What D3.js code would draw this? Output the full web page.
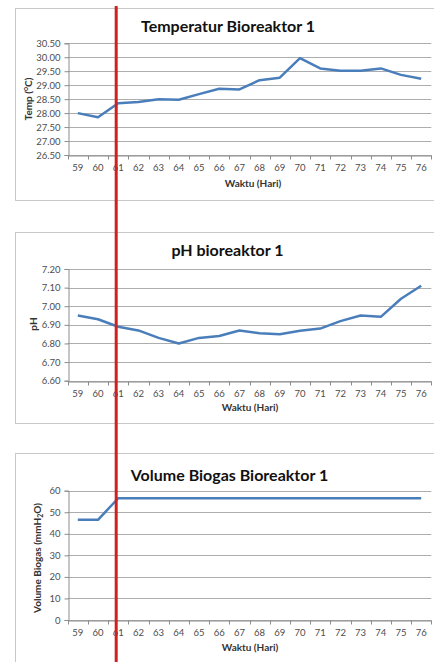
<!DOCTYPE html>
<html>
<head>
<meta charset="utf-8">
<script src="https://cdn.jsdelivr.net/npm/d3@7"></script>
<style>
  html, body { margin: 0; padding: 0; background: #fff; overflow: hidden; }
  svg { display: block; }
  text { font-family: Lato, "Open Sans", sans-serif; }
</style>
</head>
<body>
<div id="chart"></div>
<script>
// data
var days = [59, 60, 61, 62, 63, 64, 65, 66, 67, 68, 69, 70, 71, 72, 73, 74, 75, 76];
var tempValues = [28.00, 27.85, 28.35, 28.40, 28.50, 28.48, 28.68, 28.87, 28.85, 29.18, 29.27, 29.97, 29.60, 29.52, 29.52, 29.60, 29.37, 29.23];
var phValues = [6.95, 6.93, 6.89, 6.87, 6.83, 6.80, 6.83, 6.84, 6.87, 6.855, 6.85, 6.868, 6.88, 6.92, 6.95, 6.943, 7.04, 7.11];
var biogasValues = [46.5, 46.5, 56.5, 56.5, 56.5, 56.5, 56.5, 56.5, 56.5, 56.5, 56.5, 56.5, 56.5, 56.5, 56.5, 56.5, 56.5, 56.5];
var tempTicks = [26.5, 27.0, 27.5, 28.0, 28.5, 29.0, 29.5, 30.0, 30.5];
var phTicks = [6.6, 6.7, 6.8, 6.9, 7.0, 7.1, 7.2];
var biogasTicks = [0, 10, 20, 30, 40, 50, 60];
var markDay = 61;

var W = 434, H = 662;
var svg = d3.select("#chart").append("svg")
    .attr("width", W).attr("height", H);

var x = d3.scaleBand().domain(days).range([67.7, 431.3]);

function drawChart(opt) {
    var g = svg.append("g");

    // chart frame
    g.append("rect")
        .attr("x", 15.5).attr("y", opt.boxTop + 0.5)
        .attr("width", 460).attr("height", opt.boxH)
        .attr("fill", "#fff").attr("stroke", "#c9c9c9");

    var y = d3.scaleLinear().domain(opt.domain).range([opt.bottom, opt.top]);

    // gridlines
    g.selectAll(".grid").data(opt.ticks).enter().append("line")
        .attr("x1", x.range()[0]).attr("x2", x.range()[1])
        .attr("y1", d => Math.round(y(d)) + 0.5).attr("y2", d => Math.round(y(d)) + 0.5)
        .attr("stroke", "#adadad").attr("stroke-width", 1);

    // y axis
    var yAxis = d3.axisLeft(y).tickValues(opt.ticks).tickSize(4).tickPadding(4)
        .tickFormat(opt.fmt);
    var ya = g.append("g").attr("transform", "translate(" + (Math.round(x.range()[0]) + 0.5) + ",0)").call(yAxis);
    ya.select(".domain").attr("stroke", "#8c8c8c");
    ya.selectAll(".tick line").attr("stroke", "#8c8c8c");
    ya.selectAll(".tick text").attr("fill", "#4d4d4d").style("font-size", "9.5px");

    // x axis
    var xAxis = d3.axisBottom(x).tickSize(0).tickPadding(9);
    var xa = g.append("g").attr("transform", "translate(0," + (Math.round(opt.bottom) + 0.5) + ")").call(xAxis);
    xa.select(".domain").attr("stroke", "#8c8c8c");
    xa.selectAll(".tick text").attr("fill", "#4d4d4d").style("font-size", "9.5px");
    // tick marks between categories
    xa.selectAll(".sep").data(days.concat(["end"])).enter().append("line")
        .attr("x1", (d, i) => Math.round(x.range()[0] + i * x.step()) + 0.5)
        .attr("x2", (d, i) => Math.round(x.range()[0] + i * x.step()) + 0.5)
        .attr("y1", 0).attr("y2", 4)
        .attr("stroke", "#8c8c8c");

    // the series
    var line = d3.line()
        .x((d, i) => x(days[i]) + x.bandwidth() / 2)
        .y(d => y(d));
    g.append("path").datum(opt.values)
        .attr("d", line)
        .attr("fill", "none")
        .attr("stroke", "#4a7ebb")
        .attr("stroke-width", 2.5)
        .attr("stroke-linejoin", "round");

    // texts
    g.append("text")
        .attr("x", opt.titleX).attr("y", opt.titleY)
        .attr("text-anchor", "middle").attr("dominant-baseline", "central")
        .style("font-size", "16px").style("font-weight", "bold").attr("fill", "#111")
        .text(opt.title);

    g.append("text")
        .attr("x", opt.xlabX).attr("y", opt.xlabY)
        .attr("text-anchor", "middle").attr("dominant-baseline", "central")
        .style("font-size", "10px").style("font-weight", "bold").attr("fill", "#333")
        .text("Waktu (Hari)");

    var yl = g.append("text")
        .attr("transform", "translate(" + opt.ylabX + "," + opt.ylabY + ") rotate(-90)")
        .attr("text-anchor", "middle").attr("dominant-baseline", "central")
        .style("font-size", "10px").style("font-weight", "bold").attr("fill", "#333");
    opt.ylabel(yl);
}

drawChart({
    boxTop: 8, boxH: 192, top: 43.3, bottom: 155,
    domain: [26.5, 30.5], ticks: tempTicks, fmt: d3.format(".2f"),
    values: tempValues,
    title: "Temperatur Bioreaktor 1", titleX: 228, titleY: 25,
    xlabX: 253, xlabY: 183, ylabX: 28, ylabY: 99,
    ylabel: function(t) {
        t.append("tspan").text("Temp  (");
        t.append("tspan").attr("dy", -3).style("font-size", "7px").text("o");
        t.append("tspan").attr("dy", 3).text("C)");
    }
});

drawChart({
    boxTop: 232, boxH: 191, top: 269, bottom: 380.7,
    domain: [6.6, 7.2], ticks: phTicks, fmt: d3.format(".2f"),
    values: phValues,
    title: "pH bioreaktor 1", titleX: 227.5, titleY: 249,
    xlabX: 250, xlabY: 406.7, ylabX: 33, ylabY: 324,
    ylabel: function(t) { t.text("pH"); }
});

drawChart({
    boxTop: 453, boxH: 240, top: 490.7, bottom: 620,
    domain: [0, 60], ticks: biogasTicks, fmt: d3.format("d"),
    values: biogasValues,
    title: "Volume Biogas Bioreaktor 1", titleX: 229.5, titleY: 474,
    xlabX: 250, xlabY: 646.7, ylabX: 37, ylabY: 558,
    ylabel: function(t) {
        t.append("tspan").text("Volume Biogas (mmH");
        t.append("tspan").attr("dy", 3).style("font-size", "7px").text("2");
        t.append("tspan").attr("dy", -3).text("O)");
    }
});

// red marker at day 61
var rx = x(markDay) + x.bandwidth() / 2 - 2;
svg.append("line")
    .attr("x1", rx).attr("x2", rx)
    .attr("y1", 6).attr("y2", H)
    .attr("stroke", "#d0201f").attr("stroke-width", 3);
</script>
</body>
</html>
